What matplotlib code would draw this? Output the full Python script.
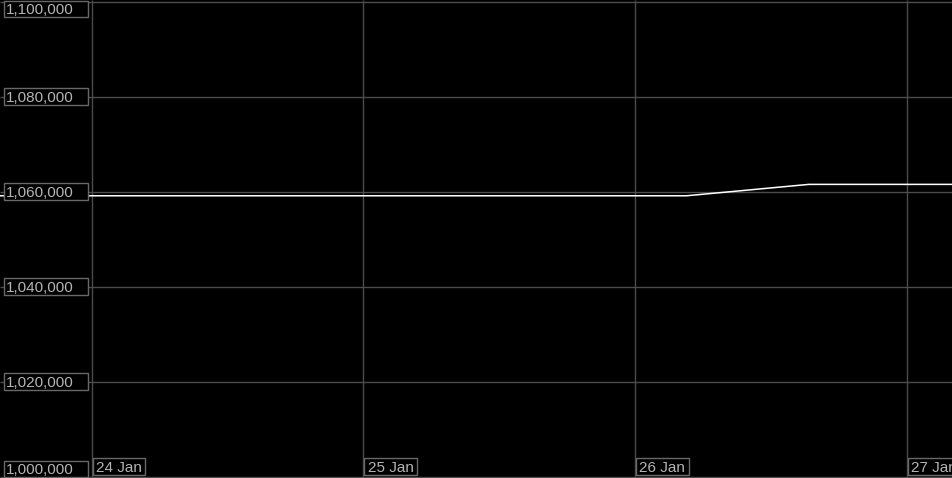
import matplotlib
matplotlib.use("Agg")
import matplotlib.pyplot as plt
import matplotlib.transforms as mtrans
from matplotlib.patches import Rectangle
import pandas as pd

plt.rcParams['font.family'] = ['Liberation Sans', 'DejaVu Sans']

times = pd.to_datetime(["2024-01-23 12:00", "2024-01-26 04:34", "2024-01-26 15:23", "2024-01-27 08:00"])
values = [1059100, 1059100, 1061500, 1061500]
y_ticks = [1000000, 1020000, 1040000, 1060000, 1080000, 1100000]
x_ticks = pd.to_datetime(["2024-01-24", "2024-01-25", "2024-01-26", "2024-01-27"])
x_labels = ["24 Jan", "25 Jan", "26 Jan", "27 Jan"]

W, H = 953, 478
fig = plt.figure(figsize=(W / 100, H / 100), dpi=100, facecolor='black')
ax = fig.add_axes([0, 0, 1, 1])
ax.set_facecolor('black')
ax.axis('off')

grid_c = '#4c4c4c'
txt_c = '#b4b4b4'
box_c = '#686868'

# scales: 1,000,000 at row 476.5, 1,100,000 at row 1.5; 24 Jan at col 91.5, 1 day = 271.67 px
upp = (y_ticks[-1] - y_ticks[0]) / 475.0
ax.set_ylim(y_ticks[0] - 1.5 * upp, y_ticks[-1] + 1.5 * upp)
day_px = 271.67
ax.set_xlim(x_ticks[0] - pd.Timedelta(days=91.5 / day_px), x_ticks[0] + pd.Timedelta(days=(W - 91.5) / day_px))

xmin, xmax = ax.get_xlim()
ax.hlines(y_ticks, xmin, xmax, color=grid_c, lw=1)
ax.vlines(x_ticks, y_ticks[0], ax.get_ylim()[1], color=grid_c, lw=1)

ax.plot(times, values, color='white', lw=1.1, solid_capstyle='butt')

ident = mtrans.IdentityTransform()

def img_rect(x0, y0, x1, y1):
    # image pixel coords (top-left origin) -> display coords
    return Rectangle((x0, H - y1), x1 - x0, y1 - y0, transform=ident,
                     fc='black', ec=box_c, lw=1, zorder=5, clip_on=False)

# y labels
for y in y_ticks:
    gy = H - ax.transData.transform((0, y))[1]  # image row of gridline
    top = gy - 8.5
    if y == y_ticks[-1]:
        top = 0.5
    elif y == y_ticks[0]:
        top = 460.5
    fig.add_artist(img_rect(3.5, top, 87.5, top + 16.5))
    fig.text(6 / W, (H - (top + 8.5)) / H, f"{y:,}", ha='left', va='center_baseline',
             color=txt_c, fontsize=11, zorder=6)

# x labels
for x, lab in zip(x_ticks, x_labels):
    gx = ax.transData.transform((mdx := matplotlib.dates.date2num(x), 0))[0]
    fig.add_artist(img_rect(gx + 1.2, 458.0, gx + 53.8, 474.5))
    fig.text((gx + 4.5) / W, (H - 466.5) / H, lab, ha='left', va='center_baseline',
             color=txt_c, fontsize=11, zorder=6)

fig.savefig("out.png", dpi=100, facecolor='black')
